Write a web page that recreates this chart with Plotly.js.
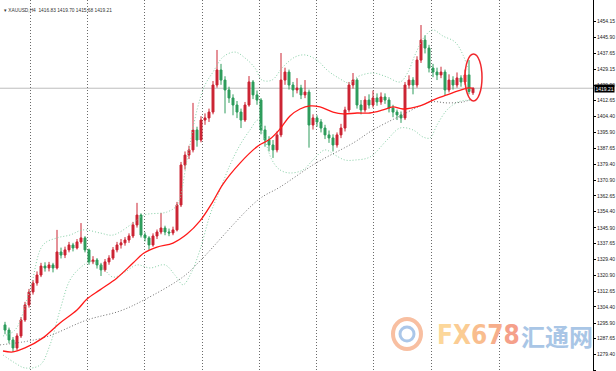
<!DOCTYPE html>
<html><head><meta charset="utf-8">
<script src="https://cdn.plot.ly/plotly-3.0.1.min.js"></script>
<style>html,body{margin:0;padding:0;background:#fff}#chart{width:616px;height:371px}</style>
</head><body><div id="chart"></div>
<script>
// ---- candle data (XAUUSD H4) ----
const opens = [1294.9,1292.2,1287.0,1282.8,1289.1,1297.5,1305.4,1312.2,1316.9,1321.1,1325.8,1324.8,1326.4,1324.8,1333.2,1331.6,1334.3,1336.9,1335.3,1338.5,
1340.6,1334.3,1328.0,1329.0,1326.4,1323.8,1328.0,1330.0,1334.3,1336.9,1338.0,1339.5,1341.6,1347.4,1352.6,1342.1,1340.6,1336.9,1341.6,1343.7,
1345.8,1343.7,1343.2,1344.8,1357.9,1378.9,1384.1,1386.8,1397.3,1392.0,1402.5,1403.6,1406.7,1420.9,1428.8,1423.5,1418.3,1414.1,1410.4,1406.7,
1402.5,1410.4,1422.5,1415.7,1413.0,1397.3,1392.0,1389.4,1386.8,1394.7,1423.5,1427.7,1420.9,1418.3,1419.3,1415.7,1417.2,1399.9,1403.6,1401.5,
1398.3,1394.7,1393.1,1389.4,1394.7,1398.3,1407.8,1420.9,1423.5,1410.4,1407.8,1413.0,1410.4,1414.1,1412.0,1414.6,1413.0,1408.8,1406.7,1405.2,
1403.6,1420.9,1423.5,1420.9,1434.0,1444.5,1440.3,1429.8,1427.7,1426.2,1427.7,1418.3,1423.5,1420.9,1424.6,1422.5,1426.2,1416.83];
const highs = [1296.5,1293.5,1288.5,1290.5,1299.0,1307.0,1313.8,1318.5,1323.0,1327.5,1327.8,1328.0,1327.5,1344.8,1335.5,1336.0,1338.5,1338.0,1340.0,1348.4,
1341.5,1335.0,1331.0,1330.0,1327.5,1329.5,1331.5,1335.8,1338.5,1340.0,1341.0,1343.0,1349.0,1359.0,1353.5,1343.5,1341.5,1343.0,1345.0,1353.7,
1347.0,1345.5,1346.5,1359.5,1380.5,1386.0,1389.0,1411.5,1399.0,1404.5,1406.0,1408.5,1423.0,1439.3,1432.0,1425.5,1420.0,1416.0,1412.5,1408.5,
1412.0,1425.6,1423.5,1418.0,1414.0,1399.5,1394.0,1392.0,1396.5,1437.7,1430.0,1429.0,1422.5,1424.5,1421.0,1423.5,1418.5,1405.5,1405.0,1403.0,
1400.0,1397.0,1395.0,1396.0,1400.5,1409.5,1422.5,1427.2,1424.5,1413.0,1415.0,1416.0,1418.0,1416.5,1417.0,1416.5,1414.5,1410.5,1408.0,1407.0,
1422.5,1426.0,1425.0,1436.0,1452.4,1447.0,1442.0,1432.0,1430.0,1430.5,1429.0,1426.5,1425.5,1427.5,1426.0,1429.0,1434.0,1419.70];
const lows = [1290.0,1285.2,1280.7,1281.5,1288.0,1296.5,1304.0,1310.8,1315.5,1320.0,1322.9,1323.0,1322.5,1324.0,1329.8,1330.0,1333.0,1333.5,1334.5,1337.5,
1333.0,1326.5,1326.8,1324.5,1320.6,1322.8,1326.5,1329.0,1333.0,1335.0,1336.5,1338.0,1340.5,1346.0,1340.8,1338.8,1334.3,1336.0,1340.0,1342.5,
1342.0,1341.5,1342.0,1344.0,1356.8,1376.5,1382.0,1385.5,1388.5,1390.8,1400.0,1401.5,1405.5,1419.5,1421.0,1406.0,1411.5,1405.0,1403.5,1398.3,
1401.5,1409.5,1413.5,1410.5,1395.0,1388.5,1386.0,1382.6,1385.5,1393.5,1421.0,1418.5,1414.5,1416.5,1413.5,1414.0,1388.0,1397.5,1399.0,1396.0,
1392.5,1390.5,1386.0,1388.0,1393.0,1396.5,1406.5,1419.0,1408.5,1405.5,1406.5,1408.5,1409.0,1410.0,1410.5,1411.0,1406.5,1404.0,1402.5,1401.0,
1402.5,1419.0,1416.0,1419.5,1432.5,1437.5,1427.5,1425.0,1423.5,1424.5,1415.5,1417.0,1418.5,1419.5,1420.0,1421.0,1416.0,1415.68];
const closes = [1292.2,1287.0,1282.8,1289.1,1297.5,1305.4,1312.2,1316.9,1321.1,1325.8,1324.8,1326.4,1324.8,1333.2,1331.6,1334.3,1336.9,1335.3,1338.5,1340.6,
1334.3,1328.0,1329.0,1326.4,1323.8,1328.0,1330.0,1334.3,1336.9,1338.0,1339.5,1341.6,1347.4,1352.6,1342.1,1340.6,1336.9,1341.6,1343.7,1345.8,
1343.7,1343.2,1344.8,1357.9,1378.9,1384.1,1386.8,1397.3,1392.0,1402.5,1403.6,1406.7,1420.9,1428.8,1423.5,1418.3,1414.1,1410.4,1406.7,1402.5,
1410.4,1422.5,1415.7,1413.0,1397.3,1392.0,1389.4,1386.8,1394.7,1423.5,1427.7,1420.9,1418.3,1419.3,1415.7,1417.2,1399.9,1403.6,1401.5,1398.3,
1394.7,1393.1,1389.4,1394.7,1398.3,1407.8,1420.9,1423.5,1410.4,1407.8,1413.0,1410.4,1414.1,1412.0,1414.6,1413.0,1408.8,1406.7,1405.2,1403.6,
1420.9,1423.5,1420.9,1434.0,1444.5,1440.3,1429.8,1427.7,1426.2,1427.7,1418.3,1423.5,1420.9,1424.6,1422.5,1426.2,1417.5,1419.21];
const barIdx = opens.map((_, i) => i);

// ---- indicator lines (bar index, price) ----
const maFastX = [-0.5,2,5,9.5,13.75,18,20.5,23.75,28,32,34.75,38,42,45.5,48.75,51.75,54.5,58.75,63.25,66.25,68.75,71.25,73.75,76.25,78.75,82,84.5,88,91.25,94.5,97,99.5,103.75,107,110.5,113.25,115.5,116.75];
const maFastY = [1281.2,1280.7,1282.8,1288.1,1295.9,1302.7,1308.5,1313.3,1319.6,1327.4,1332.7,1335.8,1337.9,1342.6,1349.5,1358.9,1368.9,1379.9,1388.9,1392.5,1397.8,1404.6,1408.3,1409.9,1409.4,1406.7,1405.7,1406.2,1406.2,1407.8,1409.4,1408.3,1409.9,1413.0,1415.7,1417.8,1419.3,1419.3];
const maSlowX = [-1.25,9.5,20.5,28.75,34.75,44.5,48.75,63.25,68.75,77.75,87,92,98.75,106.5,110.5,114.5,116.75];
const maSlowY = [1284.4,1288.1,1297.5,1302.2,1308.0,1320.1,1328.5,1360.5,1367.3,1379.9,1390.4,1397.3,1404.6,1412.0,1411.5,1412.0,1413.6];
const bandUpX = [-0.5,2.5,6.25,9.5,13,16.25,19.5,23.75,27,32,34.75,40.5,43,45.5,48,50,52,54.5,57.5,60,62.5,64.25,66.75,69.5,72.5,75,78,80.5,83,86.25,88,92,95.5,98.75,100.75,102.5,105,107,109.5,112.5,114.5,116.25];
const bandUpY = [1289.1,1292.2,1313.3,1336.9,1340.6,1342.1,1344.8,1343.2,1342.1,1348.4,1352.6,1354.2,1357.9,1381.5,1407.8,1420.9,1427.7,1435.6,1438.2,1435.1,1429.8,1423.5,1423.5,1430.4,1435.6,1436.7,1434.0,1428.8,1425.1,1421.9,1425.1,1427.2,1425.1,1422.5,1427.7,1436.7,1446.6,1449.8,1446.6,1443.5,1436.7,1426.2];
const bandLoX = [-0.5,2.5,5,8.75,11.25,13.75,16.25,18.75,21.25,23.75,27,30,33,36.25,40,42.5,44.5,46.5,48.75,51.25,53.75,56.25,58.75,61.25,63.25,65,66.75,68.75,71.25,74.5,77,80,82.5,85,87.5,91.25,95.5,98.75,102,104.5,106.25,108,110.5,113.25,116.25];
const bandLoY = [1279.1,1274.9,1272.3,1273.8,1284.4,1302.7,1318.5,1324.8,1328.0,1326.4,1320.0,1322.7,1326.4,1324.8,1326.4,1321.0,1316.0,1322.0,1334.3,1352.6,1365.8,1378.9,1389.4,1397.3,1402.5,1392.0,1381.5,1376.3,1374.7,1376.3,1381.5,1386.8,1384.1,1381.5,1381.5,1383.1,1392.0,1398.3,1397.3,1393.6,1393.1,1399.9,1407.8,1412.0,1413.0];

// ---- axis labels ----
const priceTicks = [1454.15,1445.90,1437.65,1429.15,1420.90,1412.65,1404.40,1395.90,1387.65,1379.40,1370.90,1362.65,1354.40,1345.90,1337.65,1329.40,1320.90,1312.65,1304.40,1295.90,1287.65,1279.40,1271.15];
const priceTickText = priceTicks.map(v => v.toFixed(2));
const separatorX = [6.25,20.5,34.75,49.25,63.5,77.75,92,106.5,123.5];
const headerText = 'XAUUSD,H4  1416.83 1419.70 1415.68 1419.21';
const lastPrice = closes[closes.length - 1];

const traces = [
  {type:'candlestick', x:barIdx, open:opens, high:highs, low:lows, close:closes,
   increasing:{line:{color:'#cc2433',width:1}, fillcolor:'#cc2433'},
   decreasing:{line:{color:'#2e9c5c',width:1}, fillcolor:'#2e9c5c'},
   whiskerwidth:0, hoverinfo:'skip', showlegend:false},
  {type:'scatter', mode:'lines', x:bandUpX, y:bandUpY, line:{color:'#86cfa6',width:1,dash:'1px,2px',shape:'spline'}, hoverinfo:'skip', showlegend:false},
  {type:'scatter', mode:'lines', x:bandLoX, y:bandLoY, line:{color:'#86cfa6',width:1,dash:'1px,2px',shape:'spline'}, hoverinfo:'skip', showlegend:false},
  {type:'scatter', mode:'lines', x:maSlowX, y:maSlowY, line:{color:'#6e6e6e',width:1,dash:'1px,2px',shape:'spline'}, hoverinfo:'skip', showlegend:false},
  {type:'scatter', mode:'lines', x:maFastX, y:maFastY, line:{color:'#ff1a1a',width:1.3,shape:'spline'}, hoverinfo:'skip', showlegend:false}
];

const pxW = 593;
const layout = {
  width:616, height:371,
  margin:{l:0, r:23, t:0, b:0},
  paper_bgcolor:'#ffffff', plot_bgcolor:'#ffffff',
  showlegend:false,
  xaxis:{range:[-1.25, -1.25 + pxW/4], showticklabels:false, ticks:'', tickvals:separatorX,
         showgrid:true, gridcolor:'#6a6a6a', gridwidth:1, griddash:'1px,2px', zeroline:false,
         rangeslider:{visible:false}, fixedrange:true, showline:false},
  yaxis:{side:'right', range:[1270.69, 1465.55], autorange:false, tickvals:priceTicks, ticktext:priceTickText,
         ticks:'outside', ticklen:2, tickcolor:'#000', tickwidth:1, showgrid:false, zeroline:false,
         showline:true, linecolor:'#000', linewidth:1,
         tickfont:{family:'Liberation Sans, Arial, sans-serif', size:5, color:'#222'}, fixedrange:true},
  shapes:[
    {type:'line', xref:'paper', x0:0, x1:1, yref:'y', y0:lastPrice, y1:lastPrice, line:{color:'#bdbdbd', width:1}, layer:'below'},
    {type:'circle', xref:'x', yref:'y', x0:115, x1:119.25, y0:1412.5, y1:1437.2, line:{color:'#f0282d', width:1.5}},
    {type:'circle', xref:'paper', yref:'paper', x0:393/593, x1:421/593, y0:1-349/371, y1:1-319/371, line:{color:'rgba(245,170,130,0.75)', width:4}},
    {type:'circle', xref:'paper', yref:'paper', x0:400/593, x1:414/593, y0:1-341/371, y1:1-327/371, line:{color:'rgba(150,185,228,0.8)', width:3}}
  ],
  annotations:[
    {xref:'paper', yref:'paper', x:0.004, y:1-10/371, xanchor:'left', yanchor:'middle', showarrow:false,
     text:'\u25BE ' + headerText, font:{family:'Liberation Sans, Arial, sans-serif', size:4.8, color:'#333'}},
    {xref:'paper', yref:'y', x:1, y:lastPrice, xanchor:'left', yanchor:'middle', xshift:1, showarrow:false,
     text:lastPrice.toFixed(2), bgcolor:'#000', borderpad:0.5, font:{family:'Liberation Sans, Arial, sans-serif', size:5, color:'#fff'}},
    {xref:'paper', yref:'paper', x:435/593, y:1-335/371, xanchor:'left', yanchor:'middle', showarrow:false,
     text:'<b><span style="color:#fcd79a">F</span><span style="color:#fbcc93">X</span><span style="color:#f9bd8e">6</span><span style="color:#f7ae8b">7</span><span style="color:#f5a08a">8</span></b>',
     font:{family:'DejaVu Sans Condensed, DejaVu Sans, sans-serif', size:26}},
    {xref:'paper', yref:'paper', x:519/593, y:1-335/371, xanchor:'left', yanchor:'middle', showarrow:false,
     text:'<b>汇通网</b>', font:{family:'Noto Sans CJK SC, sans-serif', size:24, color:'#a9c6e6'}}
  ]
};
Plotly.newPlot('chart', traces, layout, {staticPlot:true, displayModeBar:false});
</script>
</body></html>
